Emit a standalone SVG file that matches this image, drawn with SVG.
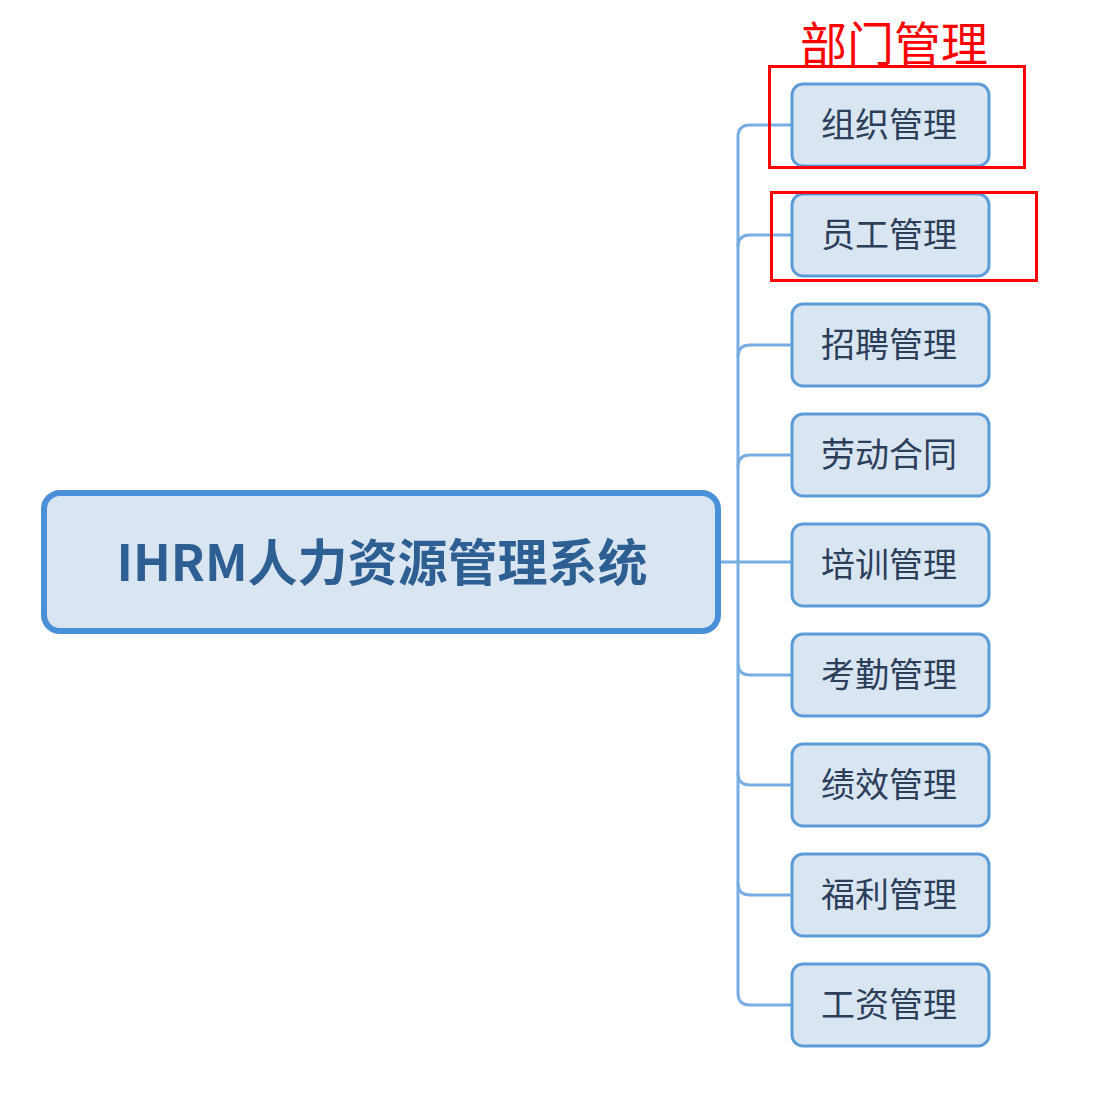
<svg xmlns="http://www.w3.org/2000/svg" width="1106" height="1116" viewBox="0 0 1106 1116">
<style>
.child rect{fill:#dae5f2;stroke:#5b9bd8;stroke-width:3}
.child text{font-family:"Noto Sans CJK SC",sans-serif;font-size:34px;fill:#2b3e5a;text-anchor:middle;dominant-baseline:central}
.conn path{fill:none;stroke:#78ade3;stroke-width:3}
.mark{fill:none;stroke:#ff0000;stroke-width:3}
</style>
<rect width="1106" height="1116" fill="#ffffff"/>
<g class="conn">
<path d="M720 562 H792"/>
<path d="M738 137 Q738 125 750 125 H792"/>
<path d="M738 247 Q738 235 750 235 H792"/>
<path d="M738 357 Q738 345 750 345 H792"/>
<path d="M738 467 Q738 455 750 455 H792"/>
<path d="M738 663 Q738 675 750 675 H792"/>
<path d="M738 773 Q738 785 750 785 H792"/>
<path d="M738 883 Q738 895 750 895 H792"/>
<path d="M738 993 Q738 1005 750 1005 H792"/>
<path d="M738 137 V993"/>
</g>
<g id="root">
<rect x="44" y="493" width="674" height="138" rx="16" fill="#dae5f2" stroke="#4a90d9" stroke-width="6"/>
<text x="382" y="559" font-family="'Noto Sans CJK SC',sans-serif" font-weight="bold" font-size="50" fill="#2e5f93" text-anchor="middle" dominant-baseline="central">IHRM人力资源管理系统</text>
</g>
<g id="n1" class="child"><rect x="792" y="84" width="197" height="82" rx="11"/><text x="889" y="122">组织管理</text></g>
<g id="n2" class="child"><rect x="792" y="194" width="197" height="82" rx="11"/><text x="889" y="232">员工管理</text></g>
<g id="n3" class="child"><rect x="792" y="304" width="197" height="82" rx="11"/><text x="889" y="342">招聘管理</text></g>
<g id="n4" class="child"><rect x="792" y="414" width="197" height="82" rx="11"/><text x="889" y="452">劳动合同</text></g>
<g id="n5" class="child"><rect x="792" y="524" width="197" height="82" rx="11"/><text x="889" y="562">培训管理</text></g>
<g id="n6" class="child"><rect x="792" y="634" width="197" height="82" rx="11"/><text x="889" y="672">考勤管理</text></g>
<g id="n7" class="child"><rect x="792" y="744" width="197" height="82" rx="11"/><text x="889" y="782">绩效管理</text></g>
<g id="n8" class="child"><rect x="792" y="854" width="197" height="82" rx="11"/><text x="889" y="892">福利管理</text></g>
<g id="n9" class="child"><rect x="792" y="964" width="197" height="82" rx="11"/><text x="889" y="1002">工资管理</text></g>
<g id="annotation">
<text x="894" y="40" font-family="'Noto Sans CJK SC',sans-serif" font-size="47" fill="#ff0000" text-anchor="middle" dominant-baseline="central">部门管理</text>
<rect class="mark" x="769.5" y="66.5" width="255" height="101"/>
<rect class="mark" x="771.5" y="192.5" width="265" height="88"/>
</g>
</svg>
